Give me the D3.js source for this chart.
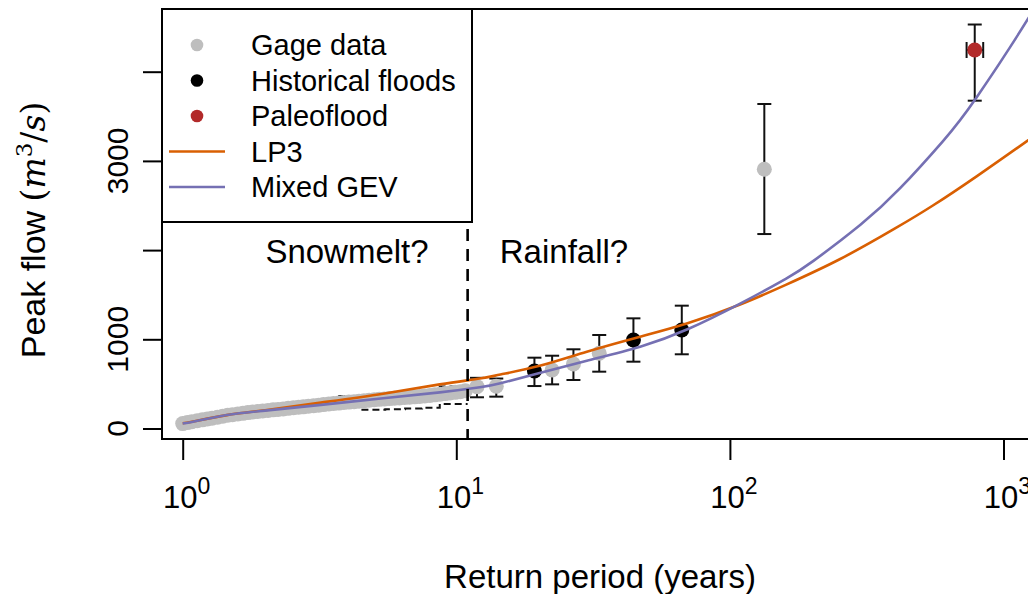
<!DOCTYPE html>
<html>
<head>
<meta charset="utf-8">
<script src="https://cdn.jsdelivr.net/npm/d3@7"></script>
<style>
  body { margin: 0; background: #fff; }
  svg { display: block; font-family: "Liberation Sans", Arial, sans-serif; }
</style>
</head>
<body>
<div id="chart"></div>
<script>
// gage data (annual peaks), dense part
let gageT = [1.00, 1.04, 1.08, 1.13, 1.18, 1.23, 1.28, 1.34, 1.40, 1.46, 1.52, 1.59, 1.66, 1.73, 1.80, 1.88, 1.96,
    2.05, 2.14, 2.23, 2.33, 2.43, 2.54, 2.65, 2.76, 2.88, 3.01, 3.14, 3.27, 3.42, 3.56, 3.72, 3.88, 4.05, 4.23, 4.41,
    4.60, 4.80, 5.01, 5.23, 5.46, 5.70, 5.94, 6.20, 6.47, 6.75, 7.05, 7.35, 7.67, 8.01, 8.35, 8.72, 9.10, 9.49, 9.91,
    10.34, 10.79];
let gageQ = [55, 66, 75, 87, 97, 107, 116, 126, 137, 148, 155, 162, 170, 178, 184, 190, 197,
    203, 209, 214, 220, 226, 232, 238, 243, 249, 255, 262, 268, 274, 280, 285, 291, 296, 301, 306,
    311, 316, 322, 327, 331, 335, 339, 343, 347, 351, 355, 360, 365, 371, 377, 384, 391, 398, 405,
    413, 423];

// gage points with individual error bars
let gageBarT  = [11.9, 14.0, 22.4, 26.8, 33.3, 133.6];
let gageBarQ  = [469, 475, 656, 723, 843, 2906];
let gageBarLo = [350, 357, 495, 544, 637, 2180];
let gageBarHi = [568, 560, 816, 888, 1048, 3638];

// stepped uncertainty envelope of the gage record
let envHiT = [3.7, 4.5, 5.5, 6.5, 7.5, 8.7, 11.0];
let envHiQ = [364, 375, 390, 405, 422, 472, 472];
let envLoT = [4.5, 5.5, 6.5, 7.5, 8.7, 11.0];
let envLoQ = [210, 216, 224, 232, 274, 274];

// historical floods
let histT  = [19.3, 44.4, 66.7];
let histQ  = [645, 992, 1104];
let histLo = [476, 749, 832];
let histHi = [794, 1235, 1377];

// paleoflood
let paleoT = [785];
let paleoQ = [4243];
let paleoLo = [3675];
let paleoHi = [4529];
let paleoTLo = [733];
let paleoTHi = [843];

// fitted curves
let lp3T = [1, 1.09, 1.45, 2, 3.2, 5.4, 8.7, 12.2, 14.5, 20, 30, 47, 70, 109, 160, 253, 400, 552, 800, 1233, 1450];
let lp3Q = [58, 78, 150, 205, 290, 390, 495, 560, 605, 700, 861, 1029, 1179, 1390, 1610, 1900, 2240, 2500, 2830, 3234, 3394];
let gevT = [1, 1.09, 1.45, 2, 3.2, 5.4, 8.7, 12.2, 14.5, 20, 30, 47, 70, 109, 160, 202, 300, 419, 600, 798, 1233, 1450];
let gevQ = [58, 76, 151, 200, 265, 339, 405, 462, 507, 619, 760, 917, 1112, 1400, 1678, 1879, 2284, 2694, 3220, 3714, 4599, 4993];

let splitT = 11;

let xTicks = [1, 10, 100, 1000];
let yTicks = [0, 1000, 2000, 3000, 4000];
let yLabels = [0, 1000, 3000];

let legendLabels = ["Gage data", "Historical floods", "Paleoflood", "LP3", "Mixed GEV"];

let colors = {gage: "#bebebe", hist: "#000000", paleo: "#b22a2a", lp3: "#d95f02", gev: "#7570b3"};

const W = 1028, H = 594;
const box = {left: 162, right: 1044, top: 9, bottom: 439};

const svg = d3.select("#chart").append("svg")
    .attr("width", W)
    .attr("height", H);

const x = d3.scaleLog().domain([1, 1000]).range([182.7, 1003.5]);
const y = d3.scaleLinear().domain([0, 4000]).range([428.5, 71.7]);

svg.append("defs").append("clipPath").attr("id", "clip")
    .append("rect")
    .attr("x", box.left).attr("y", box.top)
    .attr("width", box.right - box.left).attr("height", box.bottom - box.top);

const plot = svg.append("g").attr("clip-path", "url(#clip)");

// error bars
function errorBars(T, lo, hi, cls) {
    let d = T.map((t, i) => ({t: t, lo: lo[i], hi: hi[i]}));
    let g = plot.append("g").attr("class", cls)
        .attr("stroke", "#111").attr("stroke-width", 2).attr("fill", "none");
    g.selectAll("line.v").data(d).enter().append("line")
        .attr("class", "v")
        .attr("x1", d => x(d.t)).attr("x2", d => x(d.t))
        .attr("y1", d => y(d.lo)).attr("y2", d => y(d.hi));
    g.selectAll("line.lo").data(d).enter().append("line")
        .attr("x1", d => x(d.t) - 7).attr("x2", d => x(d.t) + 7)
        .attr("y1", d => y(d.lo)).attr("y2", d => y(d.lo));
    g.selectAll("line.hi").data(d).enter().append("line")
        .attr("x1", d => x(d.t) - 7).attr("x2", d => x(d.t) + 7)
        .attr("y1", d => y(d.hi)).attr("y2", d => y(d.hi));
}

errorBars(gageBarT, gageBarLo, gageBarHi, "gage-err");
errorBars(histT, histLo, histHi, "hist-err");
errorBars(paleoT, paleoLo, paleoHi, "paleo-err");

// horizontal error on the paleoflood
let pg = plot.append("g").attr("stroke", "#111").attr("stroke-width", 2);
paleoT.forEach(function (t, i) {
    pg.append("line")
        .attr("x1", x(paleoTLo[i])).attr("x2", x(paleoTHi[i]))
        .attr("y1", y(paleoQ[i])).attr("y2", y(paleoQ[i]));
    [paleoTLo[i], paleoTHi[i]].forEach(function (tt) {
        pg.append("line")
            .attr("x1", x(tt)).attr("x2", x(tt))
            .attr("y1", y(paleoQ[i]) - 8).attr("y2", y(paleoQ[i]) + 8);
    });
});

// stepped envelope
let stepLine = d3.line().x(d => x(d[0])).y(d => y(d[1])).curve(d3.curveStepAfter);
plot.append("path")
    .datum(envHiT.map((t, i) => [t, envHiQ[i]]))
    .attr("d", stepLine)
    .attr("fill", "none").attr("stroke", "#111").attr("stroke-width", 2)
    .attr("stroke-dasharray", "7,4");
plot.append("path")
    .datum(envLoT.map((t, i) => [t, envLoQ[i]]))
    .attr("d", stepLine)
    .attr("fill", "none").attr("stroke", "#111").attr("stroke-width", 2)
    .attr("stroke-dasharray", "7,4");

// points
function points(T, Q, color) {
    plot.append("g").selectAll("circle")
        .data(T.map((t, i) => ({t: t, q: Q[i]})))
        .enter().append("circle")
        .attr("cx", d => x(d.t))
        .attr("cy", d => y(d.q))
        .attr("r", 7.5)
        .attr("fill", color);
}
points(gageT, gageQ, colors.gage);
points(gageBarT, gageBarQ, colors.gage);
points(histT, histQ, colors.hist);
points(paleoT, paleoQ, colors.paleo);

// curves
let curve = d3.line().x(d => x(d[0])).y(d => y(d[1])).curve(d3.curveNatural);
plot.append("path")
    .datum(lp3T.map((t, i) => [t, lp3Q[i]]))
    .attr("d", curve)
    .attr("fill", "none").attr("stroke", colors.lp3).attr("stroke-width", 2.6);
plot.append("path")
    .datum(gevT.map((t, i) => [t, gevQ[i]]))
    .attr("d", curve)
    .attr("fill", "none").attr("stroke", colors.gev).attr("stroke-width", 2.6);

// snowmelt / rainfall split
svg.append("line")
    .attr("x1", x(splitT)).attr("x2", x(splitT))
    .attr("y1", box.top).attr("y2", box.bottom)
    .attr("stroke", "#000").attr("stroke-width", 2.6)
    .attr("stroke-dasharray", "12,8");

svg.append("text")
    .attr("x", 347).attr("y", 263)
    .attr("text-anchor", "middle")
    .attr("font-size", 33)
    .text("Snowmelt?");
svg.append("text")
    .attr("x", 564).attr("y", 263)
    .attr("text-anchor", "middle")
    .attr("font-size", 33)
    .text("Rainfall?");

// box
svg.append("rect")
    .attr("x", box.left).attr("y", box.top)
    .attr("width", box.right - box.left).attr("height", box.bottom - box.top)
    .attr("fill", "none").attr("stroke", "#000").attr("stroke-width", 2);

// axes
let xAxis = d3.axisBottom(x).tickValues(xTicks).tickSize(21).tickFormat("");
let xg = svg.append("g").attr("transform", `translate(0, ${box.bottom})`).call(xAxis);
xg.select(".domain").remove();
xg.selectAll("line").attr("stroke", "#000").attr("stroke-width", 2);

let xl = svg.append("g").selectAll("text")
    .data(xTicks).enter().append("text")
    .attr("x", d => x(d) + 4)
    .attr("y", 508)
    .attr("text-anchor", "middle")
    .attr("font-size", 31);
xl.append("tspan").text("10");
xl.append("tspan").attr("dy", -14).attr("font-size", 23).text(d => Math.round(Math.log10(d)));

let yAxis = d3.axisLeft(y).tickValues(yTicks).tickSize(19).tickFormat("");
let yg = svg.append("g").attr("transform", `translate(${box.left}, 0)`).call(yAxis);
yg.select(".domain").remove();
yg.selectAll("line").attr("stroke", "#000").attr("stroke-width", 2);

svg.append("g").selectAll("text")
    .data(yLabels).enter().append("text")
    .attr("transform", d => `translate(128, ${y(d)}) rotate(-90)`)
    .attr("text-anchor", "middle")
    .attr("font-size", 30)
    .text(d => d);

// axis titles
svg.append("text")
    .attr("x", 600).attr("y", 588)
    .attr("text-anchor", "middle")
    .attr("font-size", 33)
    .text("Return period (years)");

let yt = svg.append("text")
    .attr("transform", "translate(45, 230) rotate(-90)")
    .attr("text-anchor", "middle")
    .attr("font-size", 34);
yt.append("tspan").text("Peak flow ");
yt.append("tspan").attr("font-family", "DejaVu Serif").attr("font-size", 33).text("(");
yt.append("tspan").attr("font-family", "DejaVu Serif").attr("font-style", "italic").attr("font-size", 33).text("m");
yt.append("tspan").attr("font-family", "DejaVu Serif").attr("font-size", 23).attr("dy", -13).text("3");
yt.append("tspan").attr("font-family", "DejaVu Serif").attr("font-size", 33).attr("dy", 13).text("/");
yt.append("tspan").attr("font-family", "DejaVu Serif").attr("font-style", "italic").attr("font-size", 33).text("s");
yt.append("tspan").attr("font-family", "DejaVu Serif").attr("font-size", 33).text(")");

// legend
let legend = svg.append("g").attr("class", "legend");
legend.append("rect")
    .attr("x", box.left).attr("y", box.top)
    .attr("width", 310).attr("height", 213)
    .attr("fill", "#fff").attr("stroke", "#000").attr("stroke-width", 2);

let legendKinds = [
    {type: "pt", color: colors.gage},
    {type: "pt", color: colors.hist},
    {type: "pt", color: colors.paleo},
    {type: "ln", color: colors.lp3},
    {type: "ln", color: colors.gev}
];
let rowY = d3.scaleLinear().domain([0, 4]).range([45, 187]);

legendLabels.forEach(function (lab, i) {
    let k = legendKinds[i];
    if (k.type === "pt") {
        legend.append("circle")
            .attr("cx", 197).attr("cy", rowY(i)).attr("r", 6.3)
            .attr("fill", k.color);
    } else {
        legend.append("line")
            .attr("x1", 169).attr("x2", 225)
            .attr("y1", rowY(i)).attr("y2", rowY(i))
            .attr("stroke", k.color).attr("stroke-width", 2.6);
    }
    legend.append("text")
        .attr("x", 251).attr("y", rowY(i) + 10)
        .attr("font-size", 29)
        .text(lab);
});
</script>
</body>
</html>
